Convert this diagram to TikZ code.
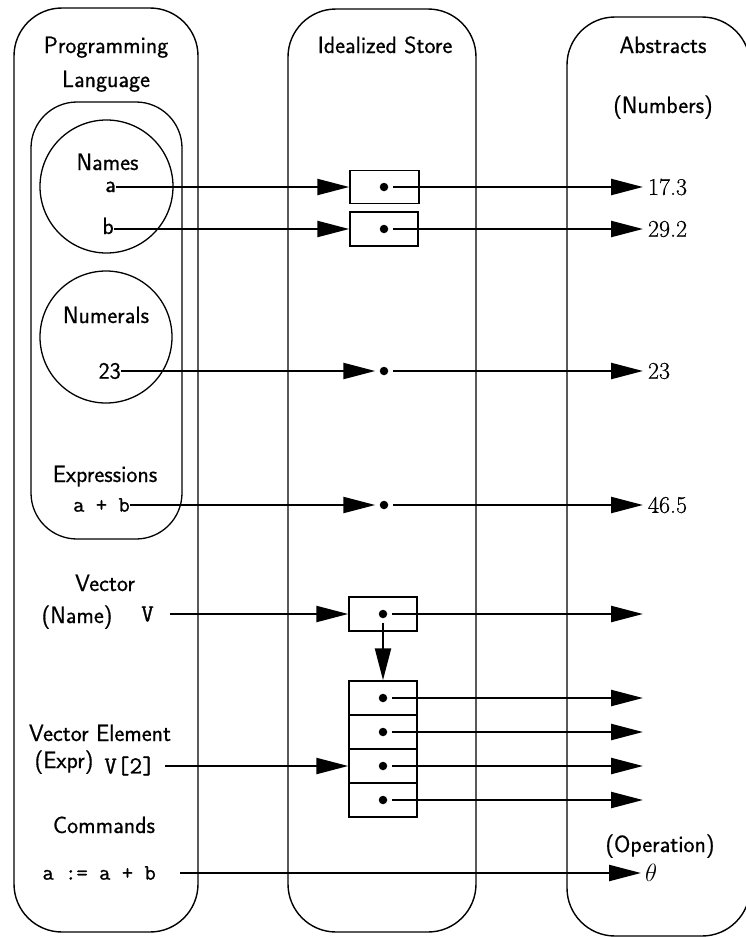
\documentclass[tikz,border=0pt]{standalone}
\usepackage{fontspec}
\newfontfamily\labfont[FakeBold=0.6]{Latin Modern Sans}
\newfontfamily\codefont[FakeBold=1.1]{Latin Modern Mono}
\newfontfamily\valfont[FakeBold=0.6]{Latin Modern Roman}
\usetikzlibrary{arrows.meta}
\begin{document}
\begin{tikzpicture}[x=1pt,y=-1pt,
  colbox/.style={draw, line width=1.4pt, rounded corners=48pt, inner sep=0pt},
  grpcircle/.style={draw, line width=1.3pt, circle, inner sep=0pt},
  cellbox/.style={draw, line width=1.5pt, minimum width=68pt, minimum height=34pt, inner sep=0pt},
  dotnode/.style={circle, fill, inner sep=0pt, minimum size=8.5pt, outer sep=4.5pt},
  conn/.style={line width=2.3pt, -{Triangle[length=32pt,width=16pt]}},
  labtxt/.style={font=\fontsize{23.5}{28}\selectfont\labfont, inner sep=0pt},
  codetxt/.style={font=\fontsize{22}{26}\selectfont\codefont, inner sep=0pt},
  bigcode/.style={font=\fontsize{24.5}{28}\selectfont\codefont, inner sep=0pt},
  valtxt/.style={font=\fontsize{24}{28}\selectfont\valfont, inner sep=0pt, anchor=west, outer sep=5pt},
]
\clip (0,0) rectangle (746,937);

% columns
\node[colbox, minimum width=184pt, minimum height=924pt] (plc) at (106,470) {};
\node[colbox, minimum width=188pt, minimum height=923pt] (isc) at (382,470.5) {};
\node[colbox, minimum width=183pt, minimum height=919pt] (abc) at (658.5,476.5) {};
% inner group and circles
\node[colbox, rounded corners=46pt, line width=1.3pt, minimum width=151pt, minimum height=437pt] (grp) at (106.5,320.5) {};
\node[grpcircle, minimum size=133pt] (namesc) at (106.5,186.5) {};
\node[grpcircle, minimum size=132pt] (numc) at (106,337) {};

% headers
\node[labtxt, anchor=base] (h1) at (106,53) {Programming};
\node[labtxt, anchor=base] (h2) at (106,87) {Language};
\node[labtxt, anchor=base] (h3) at (385,53) {Idealized Store};
\node[labtxt, anchor=base] (h4) at (663,53) {Abstracts};
\node[labtxt, anchor=base] (h5) at (663,113) {(Numbers)};

% left labels
\node[labtxt, anchor=base] (lnames) at (107.5,170) {Names};
\node[labtxt, anchor=base] (lnum) at (106,323) {Numerals};
\node[labtxt, anchor=base] (lexp) at (105,482) {Expressions};
\node[labtxt, anchor=base] (lvec) at (105,591) {Vector};
\node[labtxt, anchor=base] (lname) at (77,623) {(Name)};
\node[labtxt, anchor=base] (lvel) at (100,741) {Vector Element};
\node[labtxt, anchor=base] (lexpr) at (64,768) {(Expr)};
\node[labtxt, anchor=base] (lcmd) at (104,833) {Commands};
\node[labtxt, anchor=base] (lop) at (660,852) {(Operation)};

% sources
\node[labtxt, text height=10pt, text depth=0pt, anchor=east] (na) at (116,187) {a};
\node[labtxt, text height=10pt, text depth=0pt, anchor=east] (nb) at (114,229) {b};
\node[labtxt, anchor=east] (n23) at (121,371) {23};
\node[codetxt, anchor=east] (nab) at (130,505) {a + b};
\node[bigcode, anchor=east] (nV) at (154,614) {V};
\node[bigcode, anchor=east] (nV2) at (155,766) {V[2]};
\node[codetxt, anchor=east] (ncmd) at (156,873) {a := a + b};

% store
\node[cellbox, minimum width=69pt, minimum height=33pt] (box1) at (384.5,187) {};
\node[cellbox, minimum width=68pt, minimum height=34pt] (box2) at (384,229) {};
\node[dotnode] (d1) at (384,187) {};
\node[dotnode] (d2) at (384,229) {};
\node[dotnode] (d3) at (384,371) {};
\node[dotnode] (d4) at (384,505) {};
\node[cellbox] (box3) at (383,614) {};
\node[dotnode] (dV) at (383,614) {};
\node[cellbox] (c1) at (383,698) {};
\node[cellbox] (c2) at (383,732) {};
\node[cellbox] (c3) at (383,766) {};
\node[cellbox] (c4) at (383,800) {};
\node[dotnode] (s1) at (c1.center) {};
\node[dotnode] (s2) at (c2.center) {};
\node[dotnode] (s3) at (c3.center) {};
\node[dotnode] (s4) at (c4.center) {};

% values
\node[valtxt] (v1) at (643,187) {17.3};
\node[valtxt] (v2) at (643,229) {29.2};
\node[valtxt] (v3) at (643,371) {23};
\node[valtxt] (v4) at (643,505) {46.5};
\node[valtxt, outer sep=4pt, font=\fontsize{24}{28}\selectfont] (th) at (641,873) {$\theta$};
\coordinate (eV) at (643,614);
\coordinate (e1) at (643,698);
\coordinate (e2) at (643,732);
\coordinate (e3) at (643,766);
\coordinate (e4) at (643,800);

% connectors
\draw[conn] (na.east) -- (box1.west);
\draw[conn] (nb.east) -- (box2.west);
\draw[conn] (n23.east) -- (d3.west);
\draw[conn] (nab.east) -- (d4.west);
\draw[conn, shorten <=16pt] (nV.east) -- (box3.west);
\draw[conn, shorten <=10pt] (nV2.east) -- (c3.west);
\draw[conn, shorten <=24pt] (ncmd.east) -- (th.west);
\draw[conn] (d1.east) -- (v1.west);
\draw[conn] (d2.east) -- (v2.west);
\draw[conn] (d3.east) -- (v3.west);
\draw[conn] (d4.east) -- (v4.west);
\draw[conn] (dV.east) -- (eV);
\draw[conn] (dV.south) -- (c1.north);
\draw[conn] (s1.east) -- (e1);
\draw[conn] (s2.east) -- (e2);
\draw[conn] (s3.east) -- (e3);
\draw[conn] (s4.east) -- (e4);
\end{tikzpicture}
\end{document}
